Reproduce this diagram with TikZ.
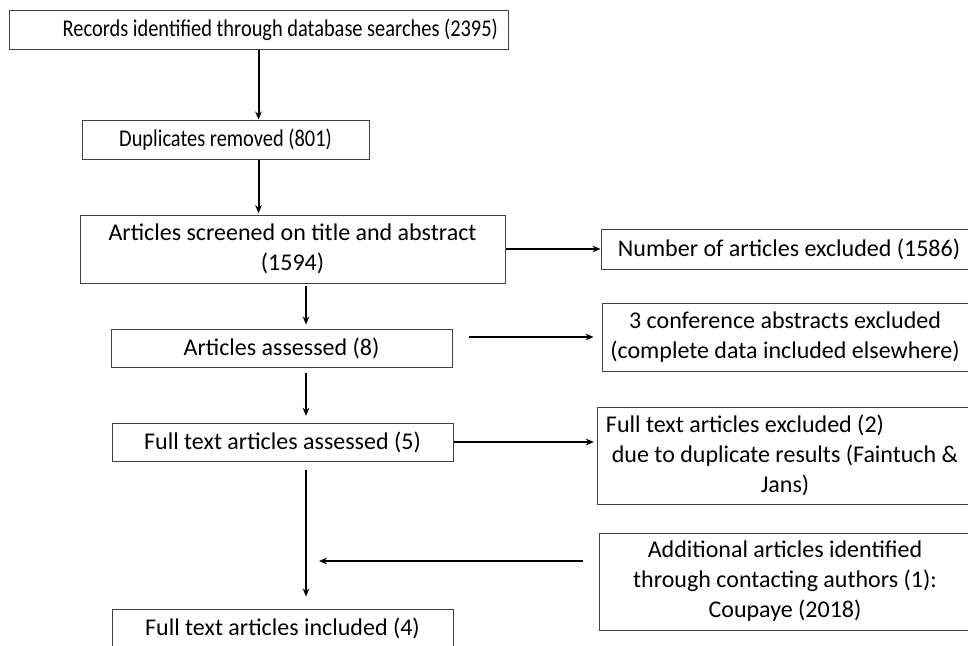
\documentclass[tikz,border=0pt]{standalone}
\usepackage{fontspec}
\setmainfont{Carlito}
\usetikzlibrary{arrows.meta}

\tikzset{every picture/.style={line width=0.75pt}}
\tikzset{
	box/.style 2 args={draw={rgb, 255:red, 64; green, 64; blue, 64}, inner sep=0pt, align=center,
		minimum width=#1*0.75pt, minimum height=#2*0.75pt, font=\fontsize{18}{22.5}\selectfont},
	narrowtext/.style={font=\fontsize{18}{22.5}\selectfont\addfontfeature{FakeStretch=0.85}},
	arr/.style={line width=1.5pt, -{Stealth[length=6pt,width=5pt]}},
}

\begin{document}
\begin{tikzpicture}[x=0.75pt,y=0.75pt,yscale=-1,xscale=1]
	\useasboundingbox (0,0) rectangle (968,646);
	\clip (0,0) rectangle (968,646);
	
	% Text Node
	\node [box={499}{39}, narrowtext, text width=359pt, align=flush right] (records) at (258.5,29.5) {Records identified through database searches (2395)};
	% Text Node
	\node [box={287}{39}, narrowtext] (dupl) at (225.5,139.5) {Duplicates removed (801)};
	% Text Node
	\node [box={425}{68}] (screened) at (292.5,249) {Articles screened on title and abstract\\(1594)};
	% Text Node
	\node [box={376}{40}] (excl) at (789,249) {Number of articles excluded (1586)};
	% Text Node
	\node [box={341}{38}] (assessed) at (281.5,348) {Articles assessed (8)};
	% Text Node
	\node [box={366}{68}] (conf) at (785,337) {3 conference abstracts excluded\\(complete data included elsewhere)};
	% Text Node
	\node [box={341}{38}] (fulltext) at (282.5,442) {Full text articles assessed (5)};
	% Text Node
	\node [box={376}{97}] (dupres) at (785,455.5) {Full text articles excluded (2)\hspace*{60pt}\\due to duplicate results (Faintuch \&\\Jans)};
	% Text Node
	\node [box={372}{97}] (extra) at (785,581.5) {Additional articles identified\\through contacting authors (1):\\Coupaye (2018)};
	% Text Node
	\node [box={341}{38}] (included) at (282.5,628) {Full text articles included (4)};
	
	% lanes for the vertical arrows
	\coordinate (lane) at (306,0);
	\coordinate (join) at (319,561);
	
	%Straight Lines
	\draw [arr] (records.south) -- (records.south |- dupl.north);
	\draw [arr, shorten >=1pt] (records.south |- dupl.south) -- (records.south |- screened.north);
	\draw [arr, shorten <=2pt, shorten >=3pt] (lane |- screened.south) -- (lane |- assessed.north);
	\draw [arr, shorten <=4pt, shorten >=5pt] (lane |- assessed.south) -- (lane |- fulltext.north);
	\draw [arr, shorten <=6pt, shorten >=9pt] (lane |- fulltext.south) -- (lane |- included.north);
	\draw [arr] (screened.east) -- (screened.east -| excl.west);
	\draw [arr, shorten <=12pt, shorten >=6pt] (assessed.east |- conf.west) -- (conf.west);
	\draw [arr, shorten >=2pt] (fulltext.east) -- (fulltext.east -| dupres.west);
	\draw [arr, shorten <=12pt] (join -| extra.west) -- (join);
	
\end{tikzpicture}
\end{document}
